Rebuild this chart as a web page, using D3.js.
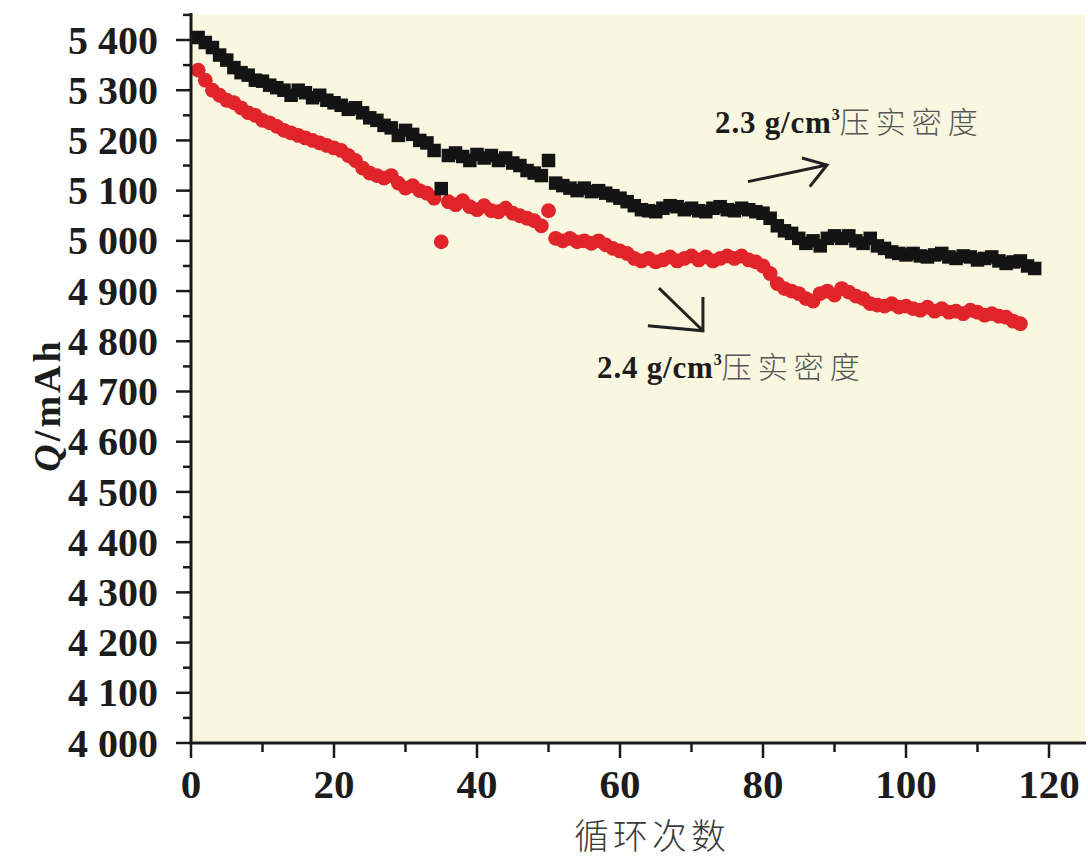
<!DOCTYPE html>
<html>
<head>
<meta charset="utf-8">
<script src="https://cdn.jsdelivr.net/npm/d3@7"></script>
<style>
  html, body { margin: 0; padding: 0; background: #ffffff; }
  svg { display: block; }
</style>
</head>
<body>
<svg id="chart" width="1088" height="862"></svg>
<script>
// ---- data ----
const yTickValues = [4000, 4100, 4200, 4300, 4400, 4500, 4600, 4700, 4800, 4900, 5000, 5100, 5200, 5300, 5400];
const yTickLabels = ["4 000", "4 100", "4 200", "4 300", "4 400", "4 500", "4 600", "4 700", "4 800", "4 900", "5 000", "5 100", "5 200", "5 300", "5 400"];
const xTickValues = [0, 20, 40, 60, 80, 100, 120];
const xTickLabels = ["0", "20", "40", "60", "80", "100", "120"];

// 2.3 g/cm3 (black squares), cycles 1..118
const q23 = [
  5405, 5395, 5385, 5370, 5360, 5345, 5335, 5330, 5320, 5318,
  5310, 5305, 5300, 5290, 5300, 5295, 5285, 5290, 5280, 5275,
  5270, 5262, 5265, 5255, 5245, 5240, 5230, 5225, 5210, 5220,
  5212, 5200, 5195, 5180, 5104, 5170, 5175, 5168, 5160, 5172,
  5165, 5170, 5160, 5165, 5155, 5150, 5140, 5135, 5130, 5160,
  5115, 5110, 5105, 5100, 5105, 5098, 5100, 5095, 5090, 5085,
  5078, 5070, 5062, 5060, 5058, 5065, 5070, 5068, 5062, 5065,
  5060, 5058, 5065, 5068, 5062, 5060, 5065, 5062, 5058, 5055,
  5045, 5030, 5020, 5015, 5005, 4995, 5000, 4990, 5005, 5010,
  5005, 5010, 5000, 4995, 5005, 4990, 4985, 4978, 4975, 4972,
  4975, 4970, 4968, 4972, 4975, 4968, 4965, 4970, 4968, 4962,
  4965, 4968, 4960, 4955, 4958, 4960, 4950, 4945
];
// 2.4 g/cm3 (red circles), cycles 1..116
const q24 = [
  5340, 5320, 5300, 5290, 5280, 5275, 5265, 5255, 5250, 5240,
  5235, 5228, 5220, 5215, 5210, 5205, 5200, 5195, 5190, 5185,
  5180, 5170, 5160, 5145, 5135, 5130, 5125, 5130, 5115, 5105,
  5110, 5100, 5095, 5085, 4998, 5078, 5072, 5080, 5068, 5062,
  5070, 5060, 5058, 5065, 5055, 5050, 5045, 5040, 5030, 5060,
  5005, 5000, 5005, 4998, 5000, 4995, 5000, 4992, 4985, 4980,
  4975, 4965, 4960, 4965, 4958, 4962, 4968, 4960, 4965, 4970,
  4962, 4968, 4960, 4965, 4970, 4965, 4970, 4962, 4958, 4950,
  4935, 4915, 4905, 4900, 4895, 4885, 4880, 4895, 4900, 4892,
  4905, 4898, 4890, 4885, 4875, 4872, 4870, 4875, 4868, 4870,
  4865, 4862, 4868, 4860, 4865, 4858, 4860, 4855, 4862, 4858,
  4852, 4855, 4850, 4848, 4840, 4835
];

// annotation anchors in data units [cycle, Q]
const note23 = { text: "2.3 g/cm", sup: "3", cn: "压实密度", at: [73.3, 5215] };
const note24 = { text: "2.4 g/cm", sup: "3", cn: "压实密度", at: [56.8, 4727] };
const arrow23 = { line: [[77.9, 5118], [88.95, 5151]], head: [[85.45, 5165], [88.95, 5151], [86.55, 5108]] };
const arrow24 = { line: [[65.45, 4906], [71.6, 4821]], head: [[71.6, 4888], [71.6, 4821], [63.9, 4831]] };

const xTitle = "循环次数";

// ---- drawing ----
const svg = d3.select("#chart");
const x = d3.scaleLinear().domain([0, 120]).range([191, 1049]);
const y = d3.scaleLinear().domain([4000, 5400]).range([743, 40]);

const serif = "'Liberation Serif', 'Times New Roman', serif";
const cjk = "'Noto Sans CJK SC', sans-serif";

// plot background
svg.append("rect")
  .attr("x", x(0)).attr("y", 15)
  .attr("width", 1085 - x(0)).attr("height", y(4000) - 15)
  .attr("fill", "#faf7e0");

// series
const s23 = q23.map((v, i) => [i + 1, v]);
const s24 = q24.map((v, i) => [i + 1, v]);

svg.append("g").selectAll("circle").data(s24).join("circle")
  .attr("cx", d => x(d[0])).attr("cy", d => y(d[1]))
  .attr("r", 7.4).attr("fill", "#e1232a");

const sq = 13.5;
svg.append("g").selectAll("rect").data(s23).join("rect")
  .attr("x", d => x(d[0]) - sq / 2).attr("y", d => y(d[1]) - sq / 2)
  .attr("width", sq).attr("height", sq).attr("fill", "#141414");

// axes
const axisColor = "#1a1a1a";
const yMinor = d3.range(4050, 5451, 100);
const xMinor = d3.range(10, 121, 20);

const gy = svg.append("g");
gy.append("line").attr("x1", x(0)).attr("x2", x(0)).attr("y1", 13).attr("y2", y(4000) + 1)
  .attr("stroke", axisColor).attr("stroke-width", 3);
gy.selectAll("line.maj").data(yTickValues).join("line").attr("class", "maj")
  .attr("x1", x(0) - 15).attr("x2", x(0)).attr("y1", d => y(d)).attr("y2", d => y(d))
  .attr("stroke", axisColor).attr("stroke-width", 2.5);
gy.selectAll("line.min").data(yMinor).join("line").attr("class", "min")
  .attr("x1", x(0) - 8).attr("x2", x(0)).attr("y1", d => y(d)).attr("y2", d => y(d))
  .attr("stroke", axisColor).attr("stroke-width", 2.5);
gy.selectAll("text").data(yTickValues).join("text")
  .attr("x", 158).attr("y", d => y(d)).attr("dy", "0.34em")
  .attr("text-anchor", "end")
  .attr("font-family", serif).attr("font-weight", "bold").attr("font-size", 40)
  .attr("fill", "#1c1c1c")
  .text((d, i) => yTickLabels[i]);

const gx = svg.append("g");
gx.append("line").attr("x1", x(0) - 1.5).attr("x2", 1086).attr("y1", y(4000)).attr("y2", y(4000))
  .attr("stroke", axisColor).attr("stroke-width", 3);
gx.selectAll("line.maj").data(xTickValues).join("line").attr("class", "maj")
  .attr("x1", d => x(d)).attr("x2", d => x(d)).attr("y1", y(4000)).attr("y2", y(4000) + 15)
  .attr("stroke", axisColor).attr("stroke-width", 2.5);
gx.selectAll("line.min").data(xMinor).join("line").attr("class", "min")
  .attr("x1", d => x(d)).attr("x2", d => x(d)).attr("y1", y(4000)).attr("y2", y(4000) + 9)
  .attr("stroke", axisColor).attr("stroke-width", 2.5);
gx.selectAll("text").data(xTickValues).join("text")
  .attr("x", d => x(d)).attr("y", 798)
  .attr("text-anchor", "middle")
  .attr("font-family", serif).attr("font-weight", "bold").attr("font-size", 41)
  .attr("fill", "#1c1c1c")
  .text((d, i) => xTickLabels[i]);

// axis titles
const yt = svg.append("text")
  .attr("transform", "translate(60,405) rotate(-90)")
  .attr("text-anchor", "middle")
  .attr("font-family", serif).attr("font-weight", "bold").attr("font-size", 38)
  .attr("letter-spacing", 3).attr("fill", "#1c1c1c");
yt.append("tspan").attr("font-style", "italic").text("Q");
yt.append("tspan").text("/mAh");

svg.append("text")
  .attr("x", 652).attr("y", 849)
  .attr("text-anchor", "middle")
  .attr("font-family", cjk).attr("font-size", 35).attr("font-weight", 300)
  .attr("letter-spacing", 4)
  .attr("fill", "#3a3a3a")
  .text(xTitle);

// annotations
function drawNote(n) {
  const t = svg.append("text")
    .attr("x", x(n.at[0])).attr("y", y(n.at[1]))
    .attr("fill", "#1c1c1c");
  t.append("tspan").attr("font-family", serif).attr("font-weight", "bold").attr("font-size", 31)
    .attr("letter-spacing", 0.8).text(n.text);
  t.append("tspan").attr("font-family", serif).attr("font-weight", "bold").attr("font-size", 16)
    .attr("dy", -13).text(n.sup);
  t.append("tspan").attr("font-family", cjk).attr("font-size", 30).attr("font-weight", 300)
    .attr("fill", "#555").attr("letter-spacing", 6).attr("dy", 13).text(n.cn);
}
drawNote(note23);
drawNote(note24);

const lineGen = d3.line().x(d => x(d[0])).y(d => y(d[1]));
[arrow23, arrow24].forEach(a => {
  svg.append("path").attr("d", lineGen(a.line))
    .attr("fill", "none").attr("stroke", "#222").attr("stroke-width", 3);
  svg.append("path").attr("d", lineGen(a.head))
    .attr("fill", "none").attr("stroke", "#222").attr("stroke-width", 3)
    .attr("stroke-linejoin", "miter");
});
</script>
</body>
</html>
